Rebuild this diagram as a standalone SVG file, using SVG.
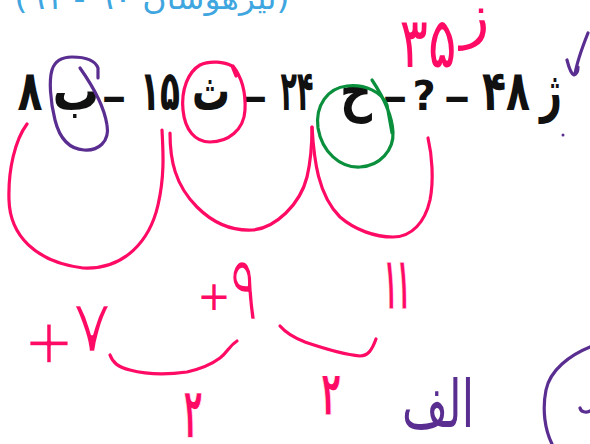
<svg xmlns="http://www.w3.org/2000/svg" width="590" height="444" viewBox="0 0 590 444">
<style>
.pr{font-family:"DejaVu Sans",sans-serif;font-weight:bold;font-size:56px;fill:#111;text-anchor:middle}
.ds{font-family:"DejaVu Sans",sans-serif;font-weight:bold;font-size:40px;fill:#111;text-anchor:middle}
.hw{font-family:"DejaVu Sans",sans-serif;text-anchor:middle;stroke:#ffffff;stroke-width:0;stroke-linejoin:round}
.bd{font-weight:bold}
.pk{fill:#ff0a64}
.pu{fill:#5a2d91}
.sp{fill:none;stroke:#ff0a64;stroke-width:3.2;stroke-linecap:round;stroke-linejoin:round}
.su{fill:none;stroke:#5a2d91;stroke-width:3.2;stroke-linecap:round;stroke-linejoin:round}
.sg{fill:none;stroke:#0a8f3c;stroke-width:3.2;stroke-linecap:round;stroke-linejoin:round}
</style>
<rect width="590" height="444" fill="#ffffff"/>
<g id="title">
<text x="152" y="9" direction="rtl" font-family="DejaVu Sans, sans-serif" font-size="30" fill="#3fa6e0" text-anchor="middle" textLength="275" lengthAdjust="spacingAndGlyphs">(تیزهوشان ۹۰ - ۹۱)</text>
</g>
<g id="sequence">
<text class="pr" x="30" y="110" textLength="25" lengthAdjust="spacingAndGlyphs">۸</text>
<text class="pr" x="76" y="110" textLength="47" lengthAdjust="spacingAndGlyphs">ب</text>
<text class="ds" x="114" y="111" textLength="25" lengthAdjust="spacingAndGlyphs">–</text>
<text class="pr" x="160" y="110" textLength="40" lengthAdjust="spacingAndGlyphs">۱۵</text>
<text class="pr" x="211" y="110" textLength="38" lengthAdjust="spacingAndGlyphs">ث</text>
<text class="ds" x="255" y="111" textLength="25" lengthAdjust="spacingAndGlyphs">–</text>
<text class="pr" x="297" y="110" textLength="33" lengthAdjust="spacingAndGlyphs">۲۴</text>
<text class="pr" x="356" y="110" textLength="32" lengthAdjust="spacingAndGlyphs">ح</text>
<text class="ds" x="395" y="111" textLength="25" lengthAdjust="spacingAndGlyphs">–</text>
<text class="ds" x="424" y="110" font-size="42">?</text>
<text class="ds" x="457" y="111" textLength="27" lengthAdjust="spacingAndGlyphs">–</text>
<text class="pr" x="506" y="110" textLength="48" lengthAdjust="spacingAndGlyphs">۴۸</text>
<text class="pr" x="551" y="110" textLength="22" lengthAdjust="spacingAndGlyphs">ژ</text>
</g>
<g id="marks">
<path id="oval-b" class="su" d="M 80 68 C 92 85, 104 105, 107 125 C 110 142, 98 151, 84 150 C 70 149, 60 140, 55 120 C 50 100, 49 80, 52 70 C 55 60, 62 57, 72 57 C 85 57, 95 60, 98 68 L 98 78"/>
<path id="oval-th" class="sp" d="M 233 66 C 240 75, 246 90, 245 110 C 244 130, 228 142, 210 142 C 195 142, 185 130, 183 110 C 181 90, 188 72, 200 65 C 210 60, 225 62, 232 66 L 236 76"/>
<path id="oval-h" class="sg" d="M 372 80 C 382 95, 392 115, 393 132 C 394 150, 380 166, 360 167 C 340 168, 322 152, 318 128 C 315 105, 328 88, 347 86 C 365 84, 382 92, 387 105 L 392 133"/>
<path id="check" class="su" d="M 588 33 C 582 48, 577 62, 575 74 M 567 60 C 569 68, 571 74, 574 75 C 577 74, 578 70, 578 67"/>
<circle cx="563" cy="135" r="1.5" fill="#5a2d91"/>
<path id="circle-br" class="su" d="M 590 347 C 570 355, 550 370, 546 390 C 542 410, 545 430, 552 444 M 580 408 C 581 412, 586 413, 590 411"/>
</g>
<g id="connectors">
<path id="arc1" class="sp" d="M 27 124 C 15 140, 8 170, 9 200 C 10 235, 35 262, 83 268 C 125 270, 150 240, 158 205 C 165 175, 163 150, 162 130"/>
<path id="arc2" class="sp" d="M 170 133 C 170 160, 175 185, 197 207 C 215 225, 235 231, 253 230 C 275 228, 300 205, 307 177 C 311 160, 312 140, 312 127"/>
<path id="arc3" class="sp" d="M 312 127 C 314 160, 318 195, 340 217 C 355 230, 375 237, 393 237 C 412 237, 425 222, 430 200 C 434 180, 432 155, 428 138"/>
<path id="brace1" class="sp" d="M 110 355 C 113 363, 118 367, 130 370 C 145 374, 165 375, 187 372 C 200 369, 212 364, 220 358 C 228 352, 229 346, 237 341"/>
<path id="brace2" class="sp" d="M 280 326 C 286 333, 292 337, 305 342 C 320 347, 340 354, 360 356 C 368 356, 372 350, 376 339"/>
</g>
<g id="labels">
<text class="hw pk" x="49" y="363" font-size="62" style="stroke-width:1.5">+</text>
<text class="hw pk" x="92" y="352" font-size="74" style="stroke-width:2.6" textLength="41" lengthAdjust="spacingAndGlyphs">۷</text>
<text class="hw pk" x="214" y="310" font-size="40">+</text>
<text class="hw pk" x="244" y="320" font-size="92" style="stroke-width:2.6" textLength="28" lengthAdjust="spacingAndGlyphs">۹</text>
<text class="hw pk bd" x="397" y="309" font-size="74" style="stroke-width:0.8" textLength="26" lengthAdjust="spacingAndGlyphs">۱۱</text>
<text class="hw pk bd" x="193" y="438" font-size="72" style="stroke-width:1.4" textLength="18" lengthAdjust="spacingAndGlyphs">۲</text>
<text class="hw pk bd" x="331" y="415" font-size="62" style="stroke-width:1.2" textLength="19" lengthAdjust="spacingAndGlyphs">۲</text>
<text class="hw pk" x="428" y="67" font-size="70" textLength="57" lengthAdjust="spacingAndGlyphs">۳۵</text>
<text class="hw pk" x="475" y="36" font-size="60">ز</text>
<text class="hw pu" x="438" y="427" font-size="66" textLength="72" lengthAdjust="spacingAndGlyphs">الف</text>
</g>
</svg>
